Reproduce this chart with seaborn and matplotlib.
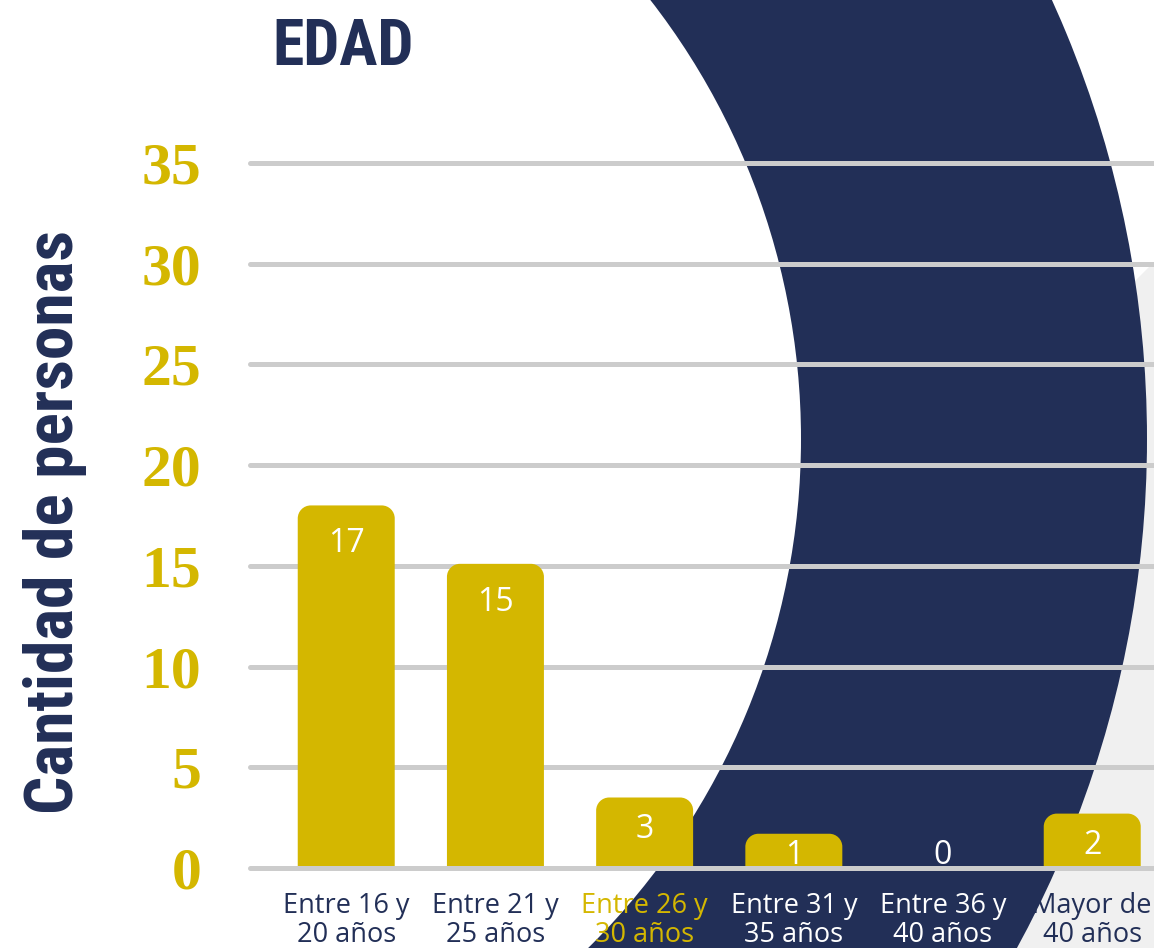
import os
import numpy as np
import pandas as pd
import matplotlib
matplotlib.use("Agg")
import matplotlib.pyplot as plt
from matplotlib import font_manager as fm
from matplotlib.font_manager import FontProperties
from matplotlib.path import Path
from matplotlib.patches import PathPatch, Wedge, Polygon
import seaborn as sns

# ---------------- data ----------------
categories = ["Entre 16 y\n20 años", "Entre 21 y\n25 años", "Entre 26 y\n30 años",
              "Entre 31 y\n35 años", "Entre 36 y\n40 años", "Mayor de\n40 años"]
value_labels = [17, 15, 3, 1, 0, 2]
bar_heights = [18.0, 15.1, 3.5, 1.7, 0.0, 2.7]   # bar lengths as drawn against the grid
yticks = [0, 5, 10, 15, 20, 25, 30, 35]
title_text = "EDAD"
ylabel_text = "Cantidad de personas"

# ---------------- style ----------------
GOLD = "#D4B700"
NAVY = "#222F57"
GRID = "#CCCCCC"
LIGHT = "#F0F0F0"
label_colors = [NAVY, NAVY, GOLD, "white", "white", NAVY]

sns.set_style("white")


def find_font(patterns):
    files = [f.fname for f in fm.fontManager.ttflist]
    for pat in patterns:
        for fn in files:
            key = os.path.basename(fn).lower().replace("-", "").replace("_", "").replace(" ", "")
            if key.startswith(pat):
                return fn
    return None


cond_file = find_font(["robotocondensedbold.", "liberationsansnarrowbold.",
                       "notosanscondensedbold.", "opensanscondbold.",
                       "opensanscondensedbold.", "dejavusanscondensedbold."])
if cond_file:
    def cond_fp(size):
        return FontProperties(fname=cond_file, size=size)
else:
    def cond_fp(size):
        return FontProperties(family="Roboto", weight="bold", size=size * 0.86)

W, H = 1154, 948
fig = plt.figure(figsize=(W / 100, H / 100), dpi=100)
fig.patch.set_facecolor("white")

# background axes in pixel coordinates
ax_bg = fig.add_axes([0, 0, 1, 1], zorder=-1)
ax_bg.set_xlim(0, W)
ax_bg.set_ylim(H, 0)
ax_bg.axis("off")
ax_bg.add_patch(Polygon([(1000, 416), (1190, 226), (1190, 960), (900, 960)],
                        closed=True, facecolor=LIGHT, edgecolor="none"))

# main axes
ax_left, ax_right, ax_bottom, ax_top = 250, 1154, 868, 163
ax = fig.add_axes([ax_left / W, 1 - ax_bottom / H, (ax_right - ax_left) / W,
                   (ax_bottom - ax_top) / H], zorder=0)
ax.patch.set_visible(False)

# navy ring (drawn in pixel space, inside main axes to control layering)
ring = Wedge((86, 439), 1061, 0, 360, width=346, facecolor=NAVY, edgecolor="none",
             transform=ax_bg.transData, zorder=0.2, clip_on=False)
ax.add_patch(ring)

df = pd.DataFrame({"cat": categories, "h": bar_heights})
sns.barplot(data=df, x="cat", y="h", order=categories, ax=ax, color=GOLD,
            saturation=1, width=0.65)

xmin, xmax = -0.645, 5.414
ax.set_xlim(xmin, xmax)
ax.set_ylim(0, 35)

# rounded top corners
sx = (ax_right - ax_left) / (xmax - xmin)
sy = (ax_bottom - ax_top) / 35.0
K = 0.5523
rpx = 13
for rect in list(ax.patches):
    if rect is ring:
        continue
    x0, w, h = rect.get_x(), rect.get_width(), rect.get_height()
    rect.remove()
    if h <= 0:
        continue
    rx = rpx / sx
    ry = min(rpx / sy, h)
    verts = [(x0, 0), (x0, h - ry), (x0, h - ry + K * ry), (x0 + rx - K * rx, h), (x0 + rx, h),
             (x0 + w - rx, h), (x0 + w - rx + K * rx, h), (x0 + w, h - ry + K * ry), (x0 + w, h - ry),
             (x0 + w, 0), (x0, 0)]
    codes = [Path.MOVETO, Path.LINETO, Path.CURVE4, Path.CURVE4, Path.CURVE4, Path.LINETO,
             Path.CURVE4, Path.CURVE4, Path.CURVE4, Path.LINETO, Path.CLOSEPOLY]
    ax.add_patch(PathPatch(Path(verts, codes), facecolor=GOLD, edgecolor="none", zorder=3))

# grid lines
for t in yticks:
    ax.axhline(t, color=GRID, lw=3.6, solid_capstyle="round", clip_on=False,
               zorder=4 if t == 0 else 1)

for s in ax.spines.values():
    s.set_visible(False)
ax.set_xlabel("")
ax.set_ylabel("")

# y ticks
ax.set_yticks(yticks)
ax.set_yticklabels([str(t) for t in yticks])
ax.tick_params(axis="y", length=0, pad=35)
for lab in ax.get_yticklabels():
    lab.set_fontproperties(FontProperties(family="Liberation Serif", weight="bold", size=43))
    lab.set_color(GOLD)

# x category labels
ax.set_xticks(range(len(categories)))
ax.set_xticklabels([])
ax.tick_params(axis="x", length=0)
for i, (cat, col) in enumerate(zip(categories, label_colors)):
    ax.annotate(cat, xy=(i, 0), xycoords=("data", "axes fraction"), xytext=(0, -17.5),
                textcoords="offset points", ha="center", va="top", color=col,
                fontfamily="Open Sans", fontsize=19.5, linespacing=1.05,
                zorder=0.1 if i == len(categories) - 1 else 5, annotation_clip=False)

# value labels
for i, (v, h) in enumerate(zip(value_labels, bar_heights)):
    ypos = h - 1.9 if h > 5 else max(h - 1.6, 0.6)
    ax.text(i, ypos, str(v), ha="center", va="center", color="white",
            fontfamily="Open Sans", fontsize=23, zorder=6)

# title and y label
fig.text(272 / W, 1 - 65 / H, title_text, ha="left", va="baseline", color=NAVY,
         fontproperties=cond_fp(46))
fig.text(73 / W, 1 - 522 / H, ylabel_text, ha="center", va="baseline", rotation=90,
         rotation_mode="anchor", color=NAVY, fontproperties=cond_fp(48.5))

fig.savefig("out.png", dpi=100)
